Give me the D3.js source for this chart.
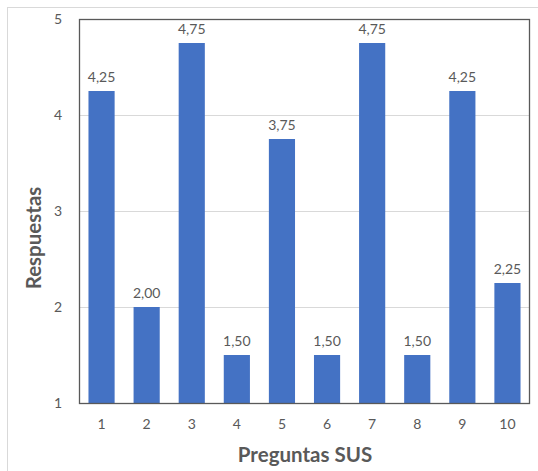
<!DOCTYPE html>
<html>
<head>
<meta charset="utf-8">
<script src="https://cdn.jsdelivr.net/npm/d3@7"></script>
<style>
  html, body { margin: 0; padding: 0; background: #fff; }
  #chart { width: 538px; height: 471px; }
  text { font-family: Lato, "Open Sans", sans-serif; }
</style>
</head>
<body>
<div id="chart"></div>
<script>
// Preguntas SUS — respuestas medias
const preguntas = ['1', '2', '3', '4', '5', '6', '7', '8', '9', '10'];
const respuestas = [4.25, 2.00, 4.75, 1.50, 3.75, 1.50, 4.75, 1.50, 4.25, 2.25];
const yTicks = [1, 2, 3, 4, 5];

(function () {
  const w = 538, h = 471;
  const margin = { top: 19, right: 8, bottom: 68, left: 79 };
  const colors = {
    bar: '#4472C4',
    grid: '#d9d9d9',
    frame: '#595959',
    tick: '#595959',
    title: '#595959'
  };
  const fmt = (v) => d3.format('.2f')(v).replace('.', ',');

  const data = preguntas.map((p, i) => ({ p, v: respuestas[i] }));

  const svg = d3.select('#chart').append('svg')
    .attr('width', w).attr('height', h);

  // outer chart border
  svg.append('rect')
    .attr('x', 7.5).attr('y', 7.5)
    .attr('width', w - 7).attr('height', h - 7)
    .attr('fill', 'none').attr('stroke', '#d9d9d9');

  const x = d3.scaleBand()
    .domain(preguntas)
    .range([margin.left, w - margin.right])
    .paddingInner(0.42).paddingOuter(0.21);

  const y = d3.scaleLinear()
    .domain([1, 5])
    .range([h - margin.bottom, margin.top]);

  // gridlines
  svg.append('g')
    .selectAll('line')
    .data(yTicks)
    .join('line')
    .attr('x1', margin.left).attr('x2', w - margin.right)
    .attr('y1', (d) => Math.round(y(d)) + 0.5)
    .attr('y2', (d) => Math.round(y(d)) + 0.5)
    .attr('stroke', colors.grid);

  // y axis labels
  svg.append('g')
    .attr('transform', `translate(${margin.left},0)`)
    .call(d3.axisLeft(y).tickValues(yTicks).tickSize(0).tickPadding(17).tickFormat(d3.format('d')))
    .call((g) => g.select('.domain').remove())
    .call((g) => g.selectAll('text')
      .attr('fill', colors.tick).attr('font-size', 14));

  // x axis labels
  svg.append('g')
    .attr('transform', `translate(0,${h - margin.bottom})`)
    .call(d3.axisBottom(x).tickSize(0).tickPadding(16))
    .call((g) => g.select('.domain').remove())
    .call((g) => g.selectAll('text')
      .attr('fill', colors.tick).attr('font-size', 14));

  // bars
  svg.append('g')
    .selectAll('rect')
    .data(data)
    .join('rect')
    .attr('x', (d) => x(d.p))
    .attr('y', (d) => y(d.v))
    .attr('width', x.bandwidth())
    .attr('height', (d) => y(1) - y(d.v))
    .attr('fill', colors.bar);

  // value labels
  svg.append('g')
    .selectAll('text')
    .data(data)
    .join('text')
    .attr('x', (d) => x(d.p) + x.bandwidth() / 2)
    .attr('y', (d) => y(d.v) - 9)
    .attr('text-anchor', 'middle')
    .attr('fill', colors.tick)
    .attr('font-size', 14)
    .text((d) => fmt(d.v));

  // plot frame
  svg.append('rect')
    .attr('x', margin.left + 0.5).attr('y', margin.top + 0.5)
    .attr('width', w - margin.left - margin.right - 1)
    .attr('height', h - margin.top - margin.bottom)
    .attr('fill', 'none')
    .attr('stroke', colors.frame)
    .attr('stroke-width', 1.3);

  // axis titles
  svg.append('text')
    .attr('x', 305)
    .attr('y', 462)
    .attr('text-anchor', 'middle')
    .attr('fill', colors.title)
    .attr('font-size', 20.5)
    .attr('font-weight', 700)
    .text('Preguntas SUS');

  svg.append('text')
    .attr('transform', 'translate(41,238) rotate(-90)')
    .attr('text-anchor', 'middle')
    .attr('fill', colors.title)
    .attr('font-size', 20.5)
    .attr('font-weight', 700)
    .text('Respuestas');
})();
</script>
</body>
</html>
